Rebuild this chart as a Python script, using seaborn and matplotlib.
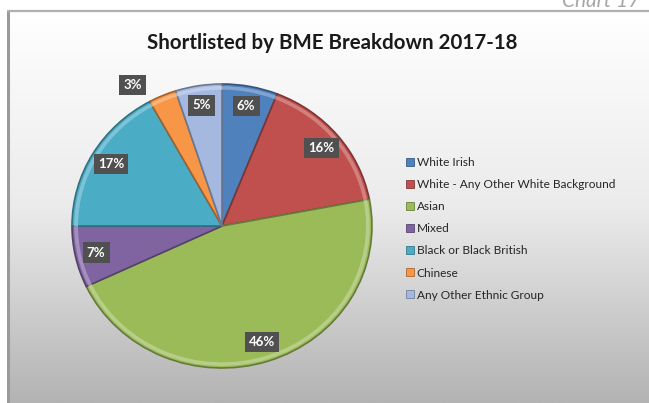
import numpy as np
import matplotlib
matplotlib.use("Agg")
import matplotlib.pyplot as plt
import matplotlib.colors as mcolors
from matplotlib.lines import Line2D
import seaborn as sns

# Shortlisted candidates by BME group, 2017-18 (percent of total)
categories = [
    "White Irish",
    "White - Any Other White Background",
    "Asian",
    "Mixed",
    "Black or Black British",
    "Chinese",
    "Any Other Ethnic Group",
]
shares = [6, 16, 46, 7, 17, 3, 5]
slice_colors = ["#4F81BD", "#C0504D", "#9BBB59", "#8064A2", "#4BACC6", "#F79646", "#A5B9E0"]

title_text = "Shortlisted by BME Breakdown 2017-18"
corner_text = "Chart 17"

sns.set_style("white")
palette = sns.color_palette(slice_colors)
plt.rcParams["font.family"] = ["Lato", "DejaVu Sans"]

W, H = 649, 403
fig = plt.figure(figsize=(W / 100, H / 100), dpi=100)
fig.patch.set_facecolor("white")


def fx(x):
    return x / W


def fy(y):
    return 1 - y / H


# framed panel with a vertical white-to-grey gradient
left, top = 8, 11
bg = fig.add_axes([fx(left), 0, 1 - fx(left), fy(top)])
grad = np.linspace(0, 1, 256)[:, None]
cmap = mcolors.LinearSegmentedColormap.from_list("panel", ["#ffffff", "#ebebeb", "#b3b3b3"])
bg.imshow(grad, aspect="auto", cmap=cmap, extent=[0, 1, 0, 1], origin="upper")
bg.set_axis_off()

fig.add_artist(Line2D([fx(left), fx(left)], [0, fy(top)], color="#9a9a9a", lw=2.2,
                      transform=fig.transFigure))
fig.add_artist(Line2D([fx(left), 1], [fy(top), fy(top)], color="#b0b0b0", lw=1.6,
                      transform=fig.transFigure))

# page caption peeking above the panel
fig.text(fx(640), fy(7), corner_text, ha="right", va="baseline", fontsize=15,
         style="italic", color="#a6a6a6")

fig.text(fx(332), fy(49), title_text, ha="center", va="baseline", fontsize=14.8,
         fontweight="bold", color="#1a1a1a")

# pie (slightly wider than tall)
cx, cy, rx, ry = 222, 226, 150, 142
ax = fig.add_axes([fx(cx - rx), fy(cy + ry), 2 * rx / W, 2 * ry / H])
edge_cols = [tuple(c * 0.65 for c in col) for col in palette]
rim_cols = [tuple(min(1, c + (1 - c) * 0.35) for c in col) for col in palette]
wedges, _ = ax.pie(shares, colors=palette, startangle=90, counterclock=False,
                   radius=1.0, wedgeprops=dict(linewidth=1.2))
for w, ec in zip(wedges, edge_cols):
    w.set_edgecolor(ec)
# light bevel rim just inside the outer edge
rims, _ = ax.pie(shares, colors=palette, startangle=90, counterclock=False,
                 radius=0.985, wedgeprops=dict(linewidth=0, width=0.025))
for r, rc in zip(rims, rim_cols):
    r.set_facecolor(rc)
    r.set_alpha(0.8)
ax.set_aspect("auto")
ax.set_xlim(-1, 1)
ax.set_ylim(-1, 1)
ax.set_axis_off()

# percentage tags placed at each slice's mid-angle
total = sum(shares)
start = 90.0
for i, v in enumerate(shares):
    sweep = 360.0 * v / total
    mid = np.deg2rad(start - sweep / 2)
    start -= sweep
    dist = 0.86
    if categories[i] == "Chinese":
        mid, dist = np.deg2rad(121), 1.16
    ax.text(dist * np.cos(mid), dist * np.sin(mid), f"{v}%", ha="center", va="center",
            fontsize=9.5, fontweight="bold", color="white",
            bbox=dict(boxstyle="square,pad=0.32", facecolor="#505050", edgecolor="none"),
            clip_on=False)

handles = [plt.Rectangle((0, 0), 1, 1, facecolor=c, edgecolor=tuple(x * 0.7 for x in c), lw=0.6)
           for c in palette]
fig.legend(handles, categories, loc="upper left", bbox_to_anchor=(fx(406), fy(157)),
           frameon=False, fontsize=8.6, handlelength=0.65, handleheight=0.65,
           handletextpad=0.25, labelspacing=0.93, borderaxespad=0, borderpad=0,
           labelcolor="#262626")

fig.savefig("out.png", dpi=100, facecolor="white")
